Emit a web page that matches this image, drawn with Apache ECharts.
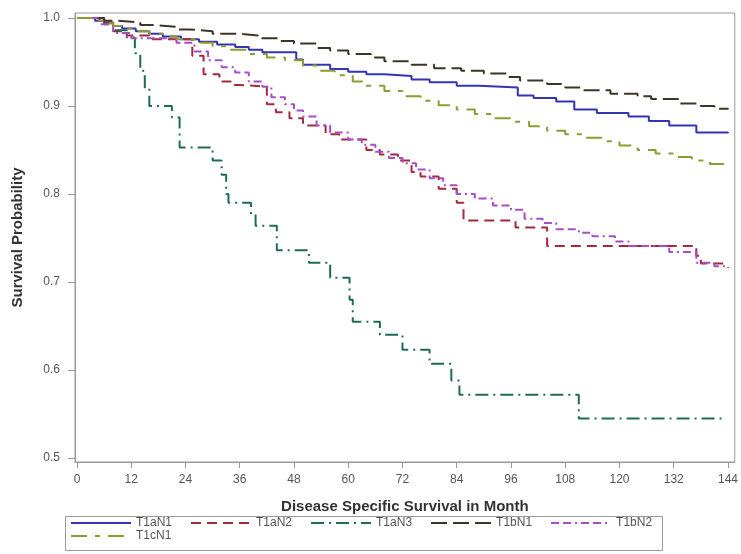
<!DOCTYPE html>
<html>
<head>
<meta charset="utf-8">
<script src="https://cdn.jsdelivr.net/npm/echarts@6/dist/echarts.min.js"></script>
<style>
  html, body { margin: 0; padding: 0; background: #ffffff; }
  #chart { width: 741px; height: 554px; }
</style>
</head>
<body>
<div id="chart"></div>
<script>
// Tick values for both axes
const monthTicks = [0, 12, 24, 36, 48, 60, 72, 84, 96, 108, 120, 132, 144];
const probTicks = [0.5, 0.6, 0.7, 0.8, 0.9, 1.0];

// Group names in legend order
const groupNames = ['T1aN1', 'T1aN2', 'T1aN3', 'T1bN1', 'T1bN2', 'T1cN1'];

// Kaplan-Meier step points: [month, survival probability]
const t1aN1 = [[0,1],[4,0.997],[6,0.994],[8,0.991],[10,0.988],[13,0.985],[16,0.982],[19,0.979],[23,0.976],[27,0.973],[31,0.97],[35,0.967],[38,0.964],[41,0.961],[48.5,0.953],[50,0.947],[56,0.942],[60,0.939],[64,0.936],[68,0.934],[74,0.93],[78,0.927],[84,0.923],[89,0.921],[97.5,0.912],[101,0.909],[106,0.905],[110,0.896],[115,0.892],[122,0.888],[126.5,0.883],[131,0.878],[137,0.87],[144,0.869]];

const t1aN2 = [[0,1],[5,0.995],[8,0.985],[11,0.98],[16,0.976],[25.5,0.957],[28,0.936],[31.5,0.928],[34,0.924],[36,0.922],[42,0.902],[44,0.893],[47,0.886],[50,0.878],[55,0.868],[58,0.862],[64,0.85],[67,0.845],[71,0.838],[74,0.825],[76,0.82],[80,0.806],[84,0.79],[85.5,0.77],[97,0.762],[104,0.741],[137,0.73],[138,0.721],[144,0.72]];

const t1aN3 = [[0,1],[6,0.993],[8,0.986],[11,0.978],[12.8,0.96],[14,0.94],[15,0.92],[16,0.9],[21,0.887],[22.7,0.853],[30,0.838],[32,0.822],[33,0.8],[33.5,0.79],[38.5,0.777],[39.5,0.764],[44.2,0.736],[51.3,0.722],[56,0.705],[60.3,0.68],[61,0.655],[67,0.64],[72,0.623],[78,0.607],[82.8,0.588],[84.6,0.572],[111,0.545],[143,0.545]];

const t1bN1 = [[0,1],[6,0.997],[9,0.995],[14,0.992],[17,0.99],[22,0.987],[25,0.985],[30,0.982],[36,0.98],[40,0.977],[45,0.974],[48,0.971],[53,0.966],[56,0.963],[60,0.959],[65,0.955],[68,0.951],[74,0.947],[79,0.943],[85,0.94],[90,0.937],[95,0.933],[98,0.929],[104,0.925],[108,0.921],[112,0.918],[118,0.914],[124,0.911],[127,0.908],[133,0.903],[138,0.9],[141,0.897],[144,0.896]];

const t1bN2 = [[0,1],[5,0.993],[8,0.983],[12,0.977],[22,0.972],[26,0.962],[29,0.952],[32,0.944],[35,0.938],[38,0.928],[41,0.922],[43,0.91],[46,0.902],[48,0.895],[50,0.888],[53,0.878],[56,0.87],[60,0.862],[63,0.856],[66,0.848],[69,0.841],[72,0.835],[75,0.828],[78,0.818],[81,0.81],[84,0.8],[88,0.795],[92,0.787],[96,0.782],[99,0.772],[103,0.767],[106,0.76],[111,0.756],[114,0.752],[119,0.746],[122,0.741],[131,0.734],[137,0.722],[141,0.718],[144,0.716]];

const t1cN1 = [[0,1],[4,0.997],[6,0.994],[8,0.991],[10,0.988],[13,0.985],[16,0.982],[19,0.979],[22,0.976],[26,0.972],[30,0.968],[34,0.964],[38,0.959],[42,0.955],[46,0.952],[50,0.946],[53,0.94],[57,0.935],[61,0.928],[64,0.923],[68,0.917],[72,0.911],[76,0.906],[80,0.901],[84,0.896],[88,0.891],[92,0.886],[96,0.882],[100,0.877],[104,0.872],[108,0.868],[112,0.864],[116,0.86],[120,0.855],[124,0.85],[128,0.846],[132,0.842],[136,0.838],[140,0.834],[143,0.831],[144,0.83]];

const groupData = [t1aN1, t1aN2, t1aN3, t1bN1, t1bN2, t1cN1];

// Line colours and dash patterns per group
const groupColors = ['#3434b4', '#a3293d', '#1f6b58', '#3c3528', '#a64fc4', '#8c9c32'];
const groupDashes = ['solid', [10, 6], [13, 5, 2, 5], [16, 6], [8, 4, 8, 4, 2, 4], [16, 8, 5, 8]];

const font = 'Liberation Sans, Arial, sans-serif';

// Shared look of the two legend rows (line sample only, no marker)
const legendBase = {
  orient: 'horizontal',
  itemWidth: 60, itemHeight: 10,
  itemGap: 18,
  padding: 0,
  itemStyle: { opacity: 0, borderWidth: 0 },
  textStyle: { fontFamily: font, fontSize: 12, color: '#555' }
};

const chart = echarts.init(document.getElementById('chart'), null, { renderer: 'canvas' });

chart.setOption({
  animation: false,
  backgroundColor: '#ffffff',
  grid: {
    left: 75, right: 5, top: 13, bottom: 92,
    show: true, borderColor: '#9a9a9a', borderWidth: 1
  },
  xAxis: {
    type: 'value',
    min: -0.44, max: 145.5,
    name: 'Disease Specific Survival in Month',
    nameLocation: 'middle',
    nameGap: 37,
    nameTextStyle: { fontFamily: font, fontWeight: 'bold', fontSize: 15, color: '#333' },
    axisLine: { show: true, onZero: false, lineStyle: { color: '#9a9a9a' } },
    axisTick: { show: true, length: 6, customValues: monthTicks, lineStyle: { color: '#9a9a9a' } },
    axisLabel: { customValues: monthTicks, fontFamily: font, fontSize: 12, color: '#555', margin: 12 },
    splitLine: { show: false }
  },
  yAxis: {
    type: 'value',
    min: 0.4955, max: 1.0057,
    name: 'Survival Probability',
    nameLocation: 'middle',
    nameGap: 50,
    nameTextStyle: { fontFamily: font, fontWeight: 'bold', fontSize: 15, color: '#333' },
    axisLine: { show: true, onZero: false, lineStyle: { color: '#9a9a9a' } },
    axisTick: { show: true, length: 7, customValues: probTicks, lineStyle: { color: '#9a9a9a' } },
    axisLabel: { customValues: probTicks, formatter: v => v.toFixed(1), fontFamily: font, fontSize: 12, color: '#555', margin: 15 },
    splitLine: { show: false }
  },
  legend: [
    Object.assign({ data: groupNames.slice(0, 5), left: 70, top: 517 }, legendBase),
    Object.assign({ data: groupNames.slice(5), left: 70, top: 530 }, legendBase)
  ],
  // Frame around the two legend rows
  graphic: [{
    type: 'rect',
    left: 63, top: 514,
    shape: { width: 597, height: 34 },
    style: { fill: 'none', stroke: '#9a9a9a', lineWidth: 1 },
    silent: true
  }],
  series: groupNames.map((name, i) => ({
    name: name,
    type: 'line',
    step: 'end',
    data: groupData[i],
    showSymbol: false,
    symbol: 'none',
    color: groupColors[i],
    lineStyle: { width: 2, color: groupColors[i], type: groupDashes[i] },
    emphasis: { disabled: true }
  }))
});
</script>
</body>
</html>
